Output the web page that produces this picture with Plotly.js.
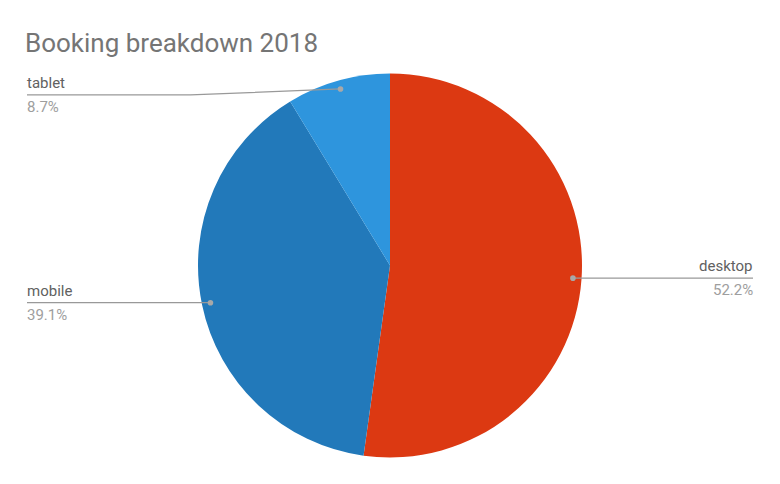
<!DOCTYPE html>
<html><head><meta charset="utf-8">
<script src="https://cdn.plot.ly/plotly-3.0.1.min.js"></script>
<style>html,body{margin:0;padding:0;background:#fff}#chart{width:780px;height:484px}</style>
</head><body><div id="chart"></div>
<script>
const categories = ["desktop", "mobile", "tablet"];
const shares = [52.2, 39.1, 8.7];
const colors = ["#DC3912", "#2279BA", "#2E95DD"];
const titleText = "Booking breakdown 2018";

const W = 780, H = 484;
const cx = 390, cy = 265.5, R = 192;
const sides = ["right", "left", "left"];
const labelDrop = [0, 0, 6];
const leftX = 27, rightX = 753;

const px = x => x / W, py = y => 1 - y / H;

const total = shares.reduce((a, b) => a + b, 0);
const shapes = [], annotations = [];
let cum = 0;
shares.forEach((v, i) => {
  const mid = (cum + v / 2) / total * 2 * Math.PI;
  cum += v;
  const r = R * 0.955;
  const dx = cx + r * Math.sin(mid), dy = cy - r * Math.cos(mid);
  const ly = dy + labelDrop[i];
  const endX = sides[i] === "right" ? rightX : leftX;
  let path = `M${px(dx)},${py(dy)}`;
  if (labelDrop[i]) {
    const bx = dx - 150;
    path += ` L${px(bx)},${py(ly)}`;
  }
  path += ` L${px(endX)},${py(ly)}`;
  shapes.push({type: "path", xref: "paper", yref: "paper", path: path,
    line: {color: "#999999", width: 1.3}});
  shapes.push({type: "circle", xref: "paper", yref: "paper",
    x0: px(dx - 2.8), x1: px(dx + 2.8), y0: py(dy + 2.8), y1: py(dy - 2.8),
    fillcolor: "#a8a8a8", line: {width: 0}});
  const right = sides[i] === "right";
  const tx = right ? endX + 2 : endX - 2;
  const anchor = right ? "right" : "left";
  annotations.push({xref: "paper", yref: "paper", x: px(tx), y: py(ly - 1),
    xanchor: anchor, yanchor: "bottom", showarrow: false, text: categories[i],
    font: {family: "Roboto", size: 15, color: "#616161"}});
  annotations.push({xref: "paper", yref: "paper", x: px(tx), y: py(ly + 1),
    xanchor: anchor, yanchor: "top", showarrow: false, text: v.toFixed(1) + "%",
    font: {family: "Roboto", size: 15, color: "#9e9e9e"}});
});

const data = [{
  type: "pie", labels: categories, values: shares, sort: false,
  direction: "clockwise", rotation: 0,
  marker: {colors: colors, line: {width: 0}},
  textinfo: "none", hoverinfo: "label+percent",
  domain: {x: [px(cx - R), px(cx + R)], y: [py(cy + R), py(cy - R)]}
}];

const layout = {
  width: W, height: H, margin: {l: 0, r: 0, t: 0, b: 0},
  paper_bgcolor: "#fff", showlegend: false,
  title: {text: titleText, x: 25 / W, xanchor: "left", y: py(43), yanchor: "middle",
    font: {family: "Roboto", size: 26, color: "#757575"}},
  shapes: shapes, annotations: annotations
};
Plotly.newPlot("chart", data, layout, {displayModeBar: false, staticPlot: true});
</script></body></html>
